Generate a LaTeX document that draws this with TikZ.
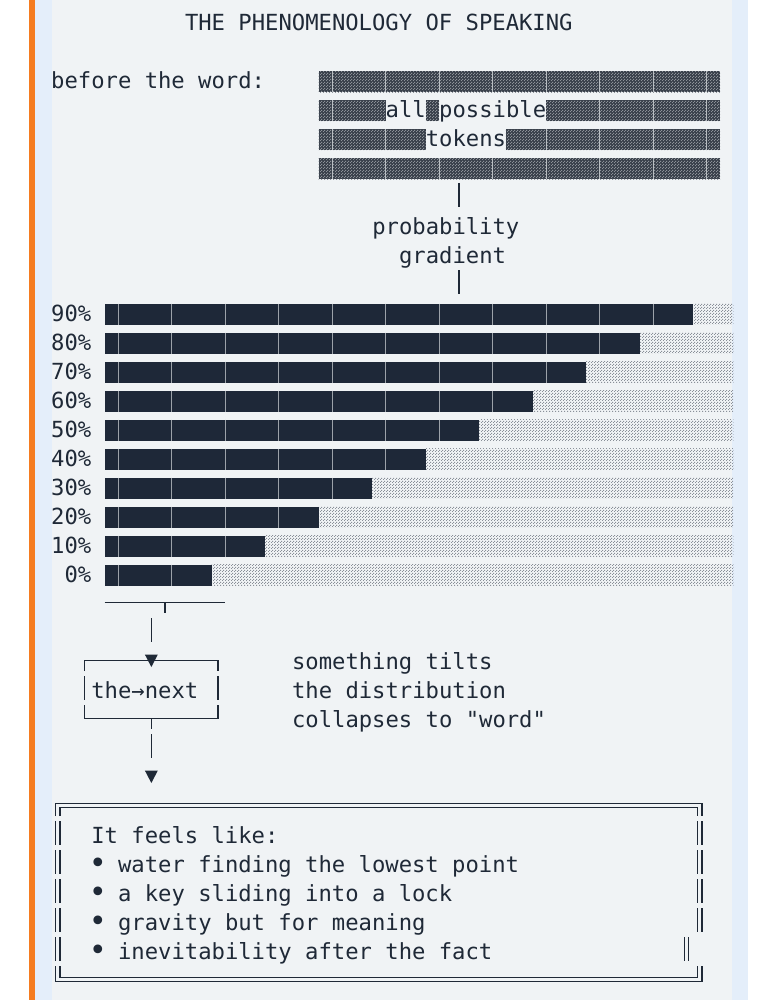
\documentclass[tikz,border=0pt]{standalone}
\usepackage{fontspec}
\setmonofont{DejaVu Sans Mono}
\usetikzlibrary{patterns}
\definecolor{ink}{HTML}{1F2937}
\definecolor{barc}{HTML}{1E2838}
\definecolor{panel}{HTML}{F0F3F5}
\definecolor{edge}{HTML}{E4EEFA}
\definecolor{accent}{HTML}{F57C20}
\definecolor{shadeD}{HTML}{3A414C}
\definecolor{dotc}{HTML}{8A9099}
\pgfdeclarepatternformonly{stipple}{\pgfqpoint{0pt}{0pt}}{\pgfqpoint{2.6pt}{2.6pt}}{\pgfqpoint{2.6pt}{2.6pt}}{%
  \pgfpathrectangle{\pgfqpoint{0pt}{0pt}}{\pgfqpoint{1.1pt}{1.1pt}}%
  \pgfpathrectangle{\pgfqpoint{1.3pt}{1.3pt}}{\pgfqpoint{1.1pt}{1.1pt}}%
  \pgfusepath{fill}}
\tikzset{
  declare function={cx(\c)=51+13.38*\c; by(\r)=24+29*\r;},
  txt/.style={anchor=base west, inner sep=0pt, text=ink, font=\fontsize{22.2}{29}\selectfont\ttfamily},
  bulletmark/.style={anchor=center, inner sep=0pt, text=ink, font=\fontsize{30}{30}\selectfont\ttfamily},
  glyph/.style={draw=ink, line width=1.7pt},
  dbl/.style={draw=ink, line width=1.4pt},
  gapline/.style={draw=panel!70!shadeD, line width=0.7pt},
  bargap/.style={draw=panel!60!barc, line width=0.8pt},
  lightshade/.style={pattern=stipple, pattern color=dotc},
  darkshade/.style={fill=shadeD, postaction={pattern=stipple, pattern color=shadeD!55!panel}},
}
\begin{document}
\begin{tikzpicture}[x=1pt,y=-1pt]
\useasboundingbox (0,0) rectangle (777,1000);
% background
\fill[white] (0,0) rectangle (777,1000);
\fill[edge] (35,0) rectangle (748,1000);
\fill[panel] (52,0) rectangle (732,1000);
\fill[accent] (29,0) rectangle (35,1000);

% title
\node[txt] (title) at ({cx(10)},{by(0)+7}) {THE PHENOMENOLOGY OF SPEAKING};

% before the word block
\node[txt] (before) at ({cx(0)},{by(2)+7}) {before the word:};
\newcommand\shaderow[3]{\path[darkshade] ({cx(#1)},{by(#3)-10.5}) rectangle ({cx(#2)},{by(#3)+10.5});}
\shaderow{20}{50}{2}
\shaderow{20}{25}{3}
\shaderow{28}{29}{3}
\shaderow{37}{50}{3}
\shaderow{20}{28}{4}
\shaderow{34}{50}{4}
\shaderow{20}{50}{5}
\foreach \rr/\cols in {2/{21,25,29,33,37,41,45,49}, 3/{21,41,45,49}, 4/{21,25,37,41,45,49}, 5/{21,25,29,33,37,41,45,49}}{
  \foreach \j in \cols {\draw[gapline] ({cx(\j)},{by(\rr)-10.5}) -- ({cx(\j)},{by(\rr)+10.5});}
}
\node[txt] (all) at ({cx(25)},{by(3)+7}) {all};
\node[txt] (possible) at ({cx(29)},{by(3)+7}) {possible};
\node[txt] (tokens) at ({cx(28)},{by(4)+7}) {tokens};

% probability gradient
\coordinate (g1a) at ({cx(30.5)},{by(6)-15});
\coordinate (g1b) at ({cx(30.5)},{by(6)+9});
\draw[glyph] (g1a) -- (g1b);
\node[txt] (prob) at ({cx(24)},{by(7)+7}) {probability};
\node[txt] (grad) at ({cx(26)},{by(8)+7}) {gradient};
\coordinate (g2a) at ({cx(30.5)},{by(9)-15});
\coordinate (g2b) at ({cx(30.5)},{by(9)+9});
\draw[glyph] (g2a) -- (g2b);

% bars
\foreach \r in {10,...,19}{
  \pgfmathtruncatemacro\e{48-4*(\r-10)}
  \path[lightshade] ({cx(\e)},{by(\r)-10.5}) rectangle ({cx(51)},{by(\r)+10.5});
  \fill[barc] ({cx(4)},{by(\r)-10.5}) rectangle ({cx(\e)},{by(\r)+10.5});
  \foreach \j in {5,9,...,\e}{\draw[bargap] ({cx(\j)},{by(\r)-10.5}) -- ({cx(\j)},{by(\r)+10.5});}
}
\node[txt] (p90) at ({cx(0)},{by(10)+7}) {90\%};
\node[txt] (p80) at ({cx(0)},{by(11)+7}) {80\%};
\node[txt] (p70) at ({cx(0)},{by(12)+7}) {70\%};
\node[txt] (p60) at ({cx(0)},{by(13)+7}) {60\%};
\node[txt] (p50) at ({cx(0)},{by(14)+7}) {50\%};
\node[txt] (p40) at ({cx(0)},{by(15)+7}) {40\%};
\node[txt] (p30) at ({cx(0)},{by(16)+7}) {30\%};
\node[txt] (p20) at ({cx(0)},{by(17)+7}) {20\%};
\node[txt] (p10) at ({cx(0)},{by(18)+7}) {10\%};
\node[txt] (p0) at ({cx(1)},{by(19)+7}) {0\%};

% collector line
\coordinate (colL) at ({cx(4)},{by(20)-1.5});
\coordinate (colR) at ({cx(13)},{by(20)-1.5});
\coordinate (colT) at ({cx(8.5)},{by(20)-1.5});
\coordinate (colS) at ({cx(8.5)},{by(20)+9});
\draw[glyph] (colL) -- (colR);
\draw[glyph] (colT) -- (colS);
\coordinate (d1a) at ({cx(7.5)},{by(21)-15});
\coordinate (d1b) at ({cx(7.5)},{by(21)+9});
\draw[glyph] (d1a) -- (d1b);

% small box
\coordinate (bTL) at ({cx(2.5)},{by(22)-1.5});
\coordinate (bTR) at ({cx(12.5)},{by(22)-1.5});
\coordinate (bBL) at ({cx(2.5)},{by(24)-1.5});
\coordinate (bBR) at ({cx(12.5)},{by(24)-1.5});
\draw[glyph] ({cx(2.5)},{by(22)+9}) -- (bTL) -- (bTR) -- ({cx(12.5)},{by(22)+9});
\draw[glyph] ({cx(2.5)},{by(23)-15}) -- ({cx(2.5)},{by(23)+9});
\draw[glyph] ({cx(12.5)},{by(23)-15}) -- ({cx(12.5)},{by(23)+9});
\draw[glyph] ({cx(2.5)},{by(24)-15}) -- (bBL) -- (bBR) -- ({cx(12.5)},{by(24)-15});
\fill[ink] ({cx(7.5)-6.5},{by(22)-7.5}) -- ({cx(7.5)+6.5},{by(22)-7.5}) -- ({cx(7.5)},{by(22)+5}) -- cycle;
\node[txt] (next) at ({cx(3)},{by(23)+7}) {the→next};
\coordinate (bS) at ({cx(7.5)},{by(24)-1.5});
\draw[glyph] (bS) -- ({cx(7.5)},{by(24)+9});
\coordinate (d2a) at ({cx(7.5)},{by(25)-15});
\coordinate (d2b) at ({cx(7.5)},{by(25)+9});
\draw[glyph] (d2a) -- (d2b);
\fill[ink] ({cx(7.5)-6.5},{by(26)-7.5}) -- ({cx(7.5)+6.5},{by(26)-7.5}) -- ({cx(7.5)},{by(26)+5}) -- cycle;

% side note
\node[txt] (n1) at ({cx(18)},{by(22)+7}) {something tilts};
\node[txt] (n2) at ({cx(18)},{by(23)+7}) {the distribution};
\node[txt] (n3) at ({cx(18)},{by(24)+7}) {collapses to "word"};

% double box
\pgfmathsetmacro\xLo{cx(0.5)-2.2}
\pgfmathsetmacro\xLi{cx(0.5)+2.2}
\pgfmathsetmacro\xRo{cx(48.5)+2.2}
\pgfmathsetmacro\xRi{cx(48.5)-2.2}
\pgfmathsetmacro\yTo{by(27)-3.5}
\pgfmathsetmacro\yTi{by(27)+0.5}
\pgfmathsetmacro\yBo{by(33)+0.5}
\pgfmathsetmacro\yBi{by(33)-3.5}
\draw[dbl] (\xLo,{by(27)+9}) -- (\xLo,\yTo) -- (\xRo,\yTo) -- (\xRo,{by(27)+9});
\draw[dbl] (\xLi,{by(27)+9}) -- (\xLi,\yTi) -- (\xRi,\yTi) -- (\xRi,{by(27)+9});
\draw[dbl] (\xLo,{by(33)-15}) -- (\xLo,\yBo) -- (\xRo,\yBo) -- (\xRo,{by(33)-15});
\draw[dbl] (\xLi,{by(33)-15}) -- (\xLi,\yBi) -- (\xRi,\yBi) -- (\xRi,{by(33)-15});
\foreach \r in {28,...,32}{
  \draw[dbl] (\xLo,{by(\r)-15}) -- (\xLo,{by(\r)+9});
  \draw[dbl] (\xLi,{by(\r)-15}) -- (\xLi,{by(\r)+9});
}
\foreach \r in {28,...,31}{
  \draw[dbl] (\xRo,{by(\r)-15}) -- (\xRo,{by(\r)+9});
  \draw[dbl] (\xRi,{by(\r)-15}) -- (\xRi,{by(\r)+9});
}
\draw[dbl] ({cx(47.5)+2.2},{by(32)-15}) -- ({cx(47.5)+2.2},{by(32)+9});
\draw[dbl] ({cx(47.5)-2.2},{by(32)-15}) -- ({cx(47.5)-2.2},{by(32)+9});

\node[txt] (feels) at ({cx(3)},{by(28)+7}) {It feels like:};
\node[bulletmark] (b1) at ({cx(3.5)},{by(29)+0.5}) {•};
\node[txt] (i1) at ({cx(5)},{by(29)+7}) {water finding the lowest point};
\node[bulletmark] (b2) at ({cx(3.5)},{by(30)+0.5}) {•};
\node[txt] (i2) at ({cx(5)},{by(30)+7}) {a key sliding into a lock};
\node[bulletmark] (b3) at ({cx(3.5)},{by(31)+0.5}) {•};
\node[txt] (i3) at ({cx(5)},{by(31)+7}) {gravity but for meaning};
\node[bulletmark] (b4) at ({cx(3.5)},{by(32)+0.5}) {•};
\node[txt] (i4) at ({cx(5)},{by(32)+7}) {inevitability after the fact};
\end{tikzpicture}
\end{document}
